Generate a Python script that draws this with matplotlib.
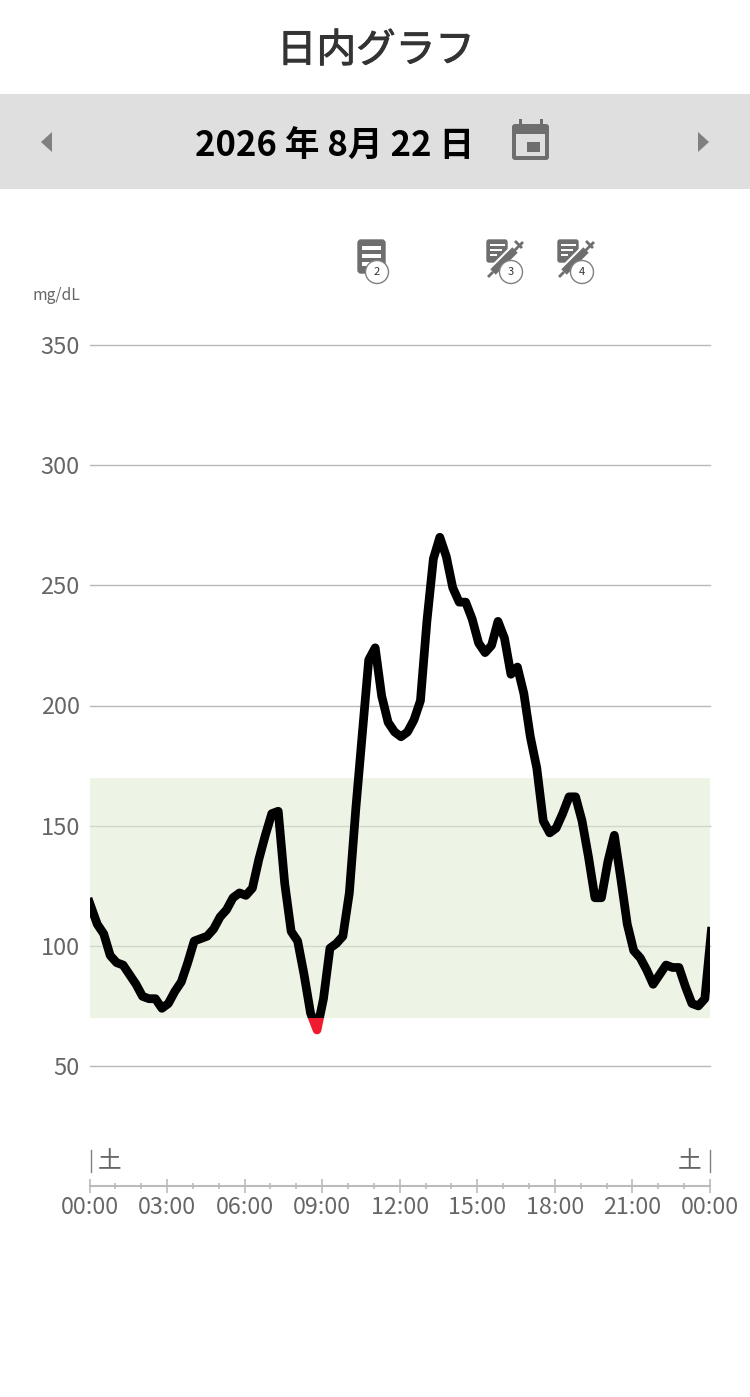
import numpy as np
import matplotlib
matplotlib.use("Agg")
import matplotlib.pyplot as plt
import matplotlib.patheffects as pe
from matplotlib.patches import FancyBboxPatch, Polygon, Rectangle, Circle

plt.rcParams["font.family"] = ["Noto Sans CJK JP", "DejaVu Sans"]

W, H = 750, 1397
GREY = "#6e6e6e"

# glucose reading every 15 minutes
glucose = [118, 109, 105, 96, 93, 92, 88, 84, 79, 78, 78, 74, 76, 81, 85, 93,
           102, 103, 104, 107, 112, 115, 120, 122, 121, 124, 136, 146, 155, 156, 126, 106,
           102, 88, 72, 65, 78, 99, 101, 104, 122, 157, 188, 219, 224, 204, 193, 189,
           187, 189, 194, 202, 235, 261, 270, 262, 249, 243, 243, 236, 226, 222, 225, 235,
           228, 213, 216, 205, 187, 174, 152, 147, 149, 155, 162, 162, 152, 137, 120, 120,
           135, 146, 128, 109, 98, 95, 90, 84, 88, 92, 91, 91, 83, 76, 75, 78,
           106]
# sensor readings land a few minutes after the quarter hour
hours = np.arange(len(glucose)) * 0.25 + 0.05
hours[0] = 0

y_ticks = [50, 100, 150, 200, 250, 300, 350]
x_major = [0, 3, 6, 9, 12, 15, 18, 21, 24]
x_labels = ["00:00", "03:00", "06:00", "09:00", "12:00", "15:00", "18:00", "21:00", "00:00"]
x_minor = list(range(25))
target_low, target_high = 70, 170


def px_rect(left, top, right, bottom):
    return [left / W, 1 - bottom / H, (right - left) / W, (bottom - top) / H]


def note_icon(bg, x, y):
    bg.add_patch(FancyBboxPatch((x + 1, y + 1), 27, 33, boxstyle="round,pad=0,rounding_size=3",
                                fc=GREY, ec=GREY, lw=1))
    for dy in (7, 15, 23):
        bg.add_patch(Rectangle((x + 5, y + dy), 19, 3.5, fc="white", ec="none"))


def shot_icon(bg, x, y):
    bg.add_patch(FancyBboxPatch((x, y), 20, 22, boxstyle="round,pad=0,rounding_size=2",
                                fc=GREY, ec=GREY, lw=1))
    for dy, w in ((4, 15), (9, 12), (14, 7)):
        bg.add_patch(Rectangle((x + 3, y + dy), w, 2.2, fc="white", ec="none"))
    bg.plot([x + 1, x + 9], [y + 37, y + 29], color=GREY, lw=2, solid_capstyle="butt")
    bg.plot([x + 6, x + 28], [y + 32, y + 10], color="white", lw=8.5, solid_capstyle="butt")
    bg.plot([x + 6, x + 28], [y + 32, y + 10], color=GREY, lw=5.5, solid_capstyle="butt")
    bg.plot([x + 26, x + 36], [y + 12, y + 2], color=GREY, lw=2, solid_capstyle="butt")
    bg.plot([x + 28, x + 35], [y + 1, y + 8], color=GREY, lw=2, solid_capstyle="butt")


def badge(bg, cx, cy, label):
    bg.add_patch(Circle((cx, cy), 11.5, fc="white", ec="#808080", lw=1, zorder=5))
    bg.text(cx, cy, label, ha="center", va="center", fontsize=8, color="#333333", zorder=6)


fig = plt.figure(figsize=(W / 100, H / 100), dpi=100, facecolor="white")

# page furniture in pixel coordinates
bg = fig.add_axes([0, 0, 1, 1])
bg.set_xlim(0, W)
bg.set_ylim(H, 0)
bg.axis("off")

title = bg.text(376, 51, "日内グラフ", ha="center", va="center", fontsize=28.5, color="#333333")
title.set_path_effects([pe.withStroke(linewidth=0.7, foreground="#333333")])
bg.add_patch(Rectangle((0, 94), W, 95, fc="#dfdfdf", ec="none"))
bg.text(335, 146, "2026 年 8月 22 日", ha="center", va="center", fontsize=25,
        fontweight="bold", color="black")
bg.add_patch(Polygon([[52, 132], [52, 152], [41, 142]], fc="#808080", ec="none"))
bg.add_patch(Polygon([[698, 132], [698, 152], [709, 142]], fc="#808080", ec="none"))

# calendar
bg.add_patch(FancyBboxPatch((512, 124), 37, 36, boxstyle="round,pad=0,rounding_size=3",
                            fc=GREY, ec="none"))
bg.add_patch(Rectangle((516, 134), 29, 22, fc="#dfdfdf", ec="none"))
bg.add_patch(Rectangle((527, 142), 13, 10, fc=GREY, ec="none"))
for cx in (520, 541):
    bg.add_patch(Rectangle((cx - 1.5, 119), 3, 8, fc=GREY, ec="none"))

note_icon(bg, 357, 239)
badge(bg, 377, 272, "2")
shot_icon(bg, 487, 240)
badge(bg, 511, 272, "3")
shot_icon(bg, 558, 240)
badge(bg, 582, 272, "4")

bg.text(33, 295, "mg/dL", ha="left", va="center", fontsize=11.3, color="#666666")

# chart
ax = fig.add_axes(px_rect(89.5, 345, 710, 1066))
ax.patch.set_alpha(0)
ax.set_xlim(0, 24)
ax.set_ylim(50, 350)

ax.set_axisbelow(True)
ax.grid(axis="y", color="#b8b8b8", lw=1, clip_on=False)
ax.axhspan(target_low, target_high, fc="#e1ebd4", alpha=0.6, ec="none", zorder=1)

black, = ax.plot(hours, glucose, color="black", lw=6.3, solid_joinstyle="round", zorder=3)
red, = ax.plot(hours, glucose, color="#ee1c2e", lw=6.3, solid_joinstyle="round", zorder=3)
black.set_clip_path(Rectangle((0, target_low), 24, 300, transform=ax.transData))
red.set_clip_path(Rectangle((0, 50), 24, target_low - 50, transform=ax.transData))

for s in ("top", "left", "right"):
    ax.spines[s].set_visible(False)
ax.spines["bottom"].set_position(("outward", 86.4))
ax.spines["bottom"].set_color("#bbbbbb")
ax.spines["bottom"].set_linewidth(1.5)

ax.set_yticks(y_ticks)
ax.tick_params(axis="y", length=0, pad=7, labelsize=17, labelcolor="#666666")
ax.set_xticks(x_major)
ax.set_xticklabels(x_labels)
ax.set_xticks(x_minor, minor=True)
ax.tick_params(axis="x", which="major", direction="inout", length=10, width=1.2,
               color="#bbbbbb", labelsize=16.8, labelcolor="#666666", pad=2.5)
ax.tick_params(axis="x", which="minor", direction="inout", length=5, width=1.2, color="#bbbbbb")

# weekday marks
for x_px, t_px in ((90.5, 110), (709.5, 690)):
    bg.plot([x_px, x_px], [1150, 1172], color="#808080", lw=1)
    bg.text(t_px, 1162, "土", ha="center", va="center", fontsize=17, color="#666666")

fig.savefig("out.png", dpi=100)
